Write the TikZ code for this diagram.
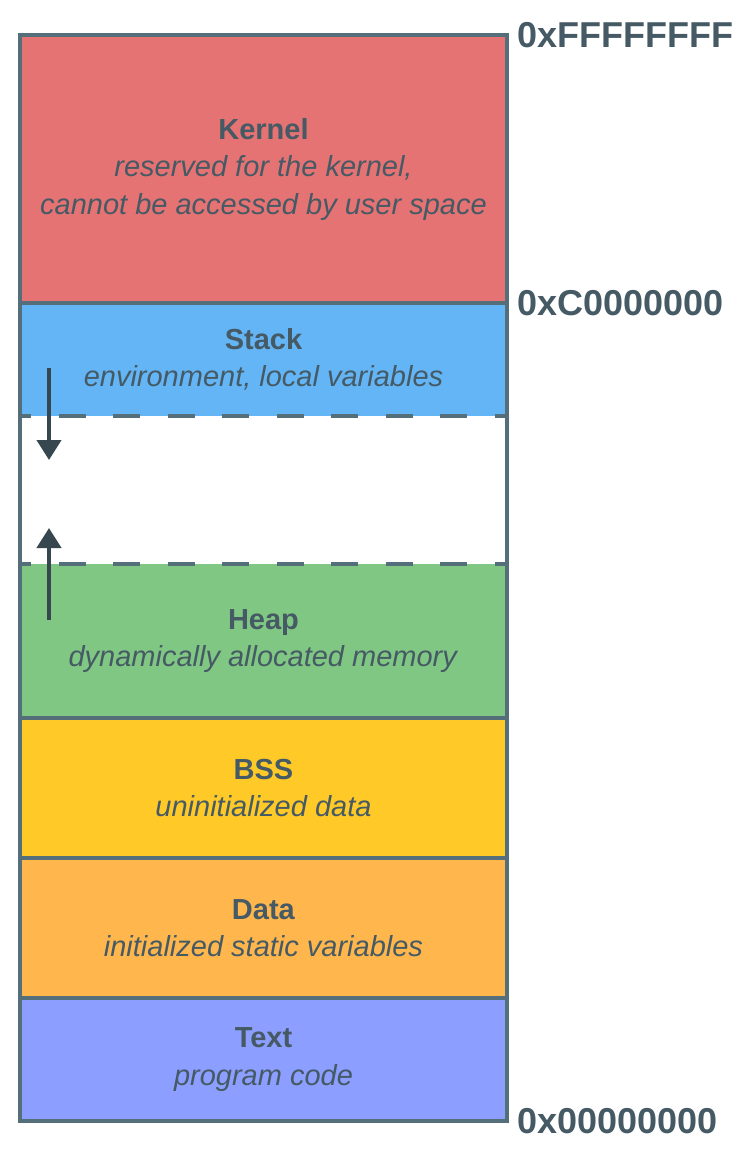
\documentclass[tikz,border=0pt]{standalone}
\usepackage{fontspec}
\setmainfont{Liberation Sans}
\usepackage{tikz}
\usetikzlibrary{arrows.meta,positioning}
\definecolor{kernelred}{HTML}{E57373}
\definecolor{stackblue}{HTML}{64B5F6}
\definecolor{heapgreen}{HTML}{81C784}
\definecolor{bssyellow}{HTML}{FFCA28}
\definecolor{dataorange}{HTML}{FFB74D}
\definecolor{textviolet}{HTML}{8C9EFF}
\definecolor{edge}{HTML}{546E7A}
\definecolor{ink}{HTML}{455A64}
\definecolor{arrowink}{HTML}{37474F}

\begin{document}
\begin{tikzpicture}[
    x=1pt, y=-1pt,
    every node/.style={font=\fontsize{29}{37.5}\selectfont, text=ink},
    seg/.style={rectangle, inner sep=0pt, outer sep=0pt, minimum width=487pt, align=center},
    addr/.style={anchor=west, inner sep=0pt, xshift=10pt, font=\fontsize{36}{40}\selectfont\bfseries},
    divider/.style={draw=edge, line width=4pt},
    gapline/.style={divider, dash pattern=on 27pt off 27.5pt, dash phase=16pt},
    growth/.style={draw=arrowink, line width=4.2pt, -{Triangle[width=24pt,length=20pt]}}
]
    \useasboundingbox (0,0) rectangle (746,1154);

    % Segments (vertical stack)
    \node [seg, fill=kernelred, minimum height=268pt] (kernel) at (263.5,169)
        {\textbf{Kernel}\\\textit{reserved for the kernel,}\\\textit{cannot be accessed by user space}};
    \node [seg, fill=stackblue, minimum height=113pt, below=0pt of kernel] (stack)
        {\textbf{Stack}\\\textit{environment, local variables}};
    \node [seg, fill=white, minimum height=148pt, below=0pt of stack] (free) {};
    \node [seg, fill=heapgreen, minimum height=154pt, below=0pt of free] (heap)
        {\textbf{Heap}\\\textit{dynamically allocated memory}};
    \node [seg, fill=bssyellow, minimum height=140pt, below=0pt of heap] (bss)
        {\textbf{BSS}\\\textit{uninitialized data}};
    \node [seg, fill=dataorange, minimum height=140pt, below=0pt of bss] (data)
        {\textbf{Data}\\\textit{initialized static variables}};
    \node [seg, fill=textviolet, minimum height=123pt, below=0pt of data] (text)
        {\textbf{Text}\\\textit{program code}};

    % Dividers
    \draw[divider] (kernel.south west) -- (kernel.south east);
    \draw[gapline] (stack.south west) -- (stack.south east);
    \draw[gapline] (heap.north west) -- (heap.north east);
    \draw[divider] (heap.south west) -- (heap.south east);
    \draw[divider] (bss.south west) -- (bss.south east);
    \draw[divider] (data.south west) -- (data.south east);
    \draw[divider] (kernel.north west) rectangle (text.south east);

    % Growth arrows
    \coordinate (stacktail) at (49,368);
    \coordinate (stacktip) at (49,460);
    \coordinate (heaptail) at (49,620);
    \coordinate (heaptip) at (49,528);
    \draw[growth] (stacktail) -- (stacktip);
    \draw[growth] (heaptail) -- (heaptip);

    % Addresses
    \node [addr] (topaddr) at (kernel.north east) {0xFFFFFFFF};
    \node [addr] (kerneladdr) at (kernel.south east) {0xC0000000};
    \node [addr] (bottomaddr) at (text.south east) {0x00000000};
\end{tikzpicture}
\end{document}
